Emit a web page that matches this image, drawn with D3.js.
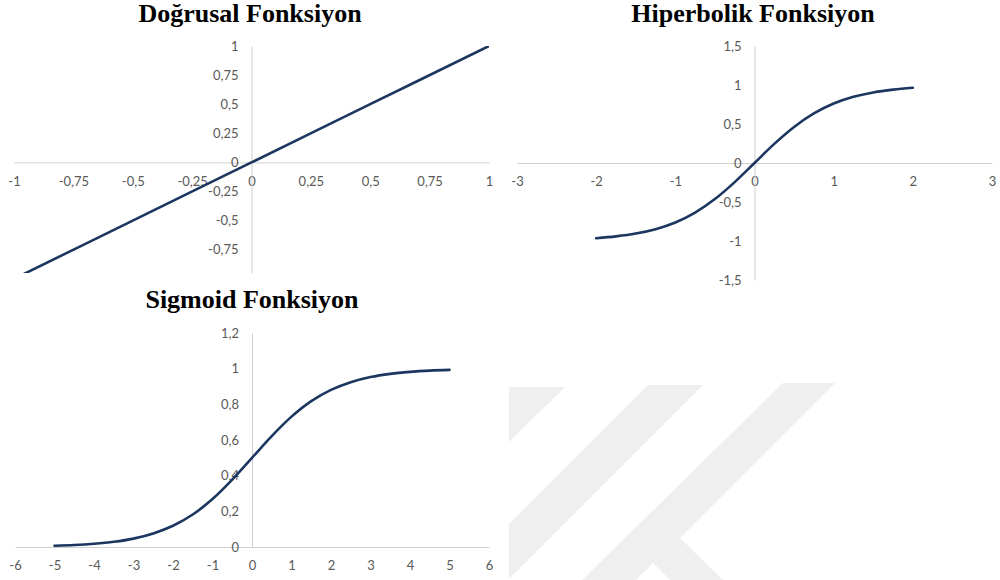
<!DOCTYPE html>
<html>
<head>
<meta charset="utf-8">
<script src="https://cdn.jsdelivr.net/npm/d3@7"></script>
<style>
  html, body { margin: 0; padding: 0; background: #ffffff; }
  svg { display: block; }
  .title { font-family: "Liberation Serif", "Times New Roman", serif; font-weight: bold; font-size: 26px; fill: #000; }
  .tick text { font-family: Lato, "Liberation Sans", Arial, sans-serif; font-size: 13px; fill: #595959; }
</style>
</head>
<body>
<svg id="chart" width="1000" height="580"></svg>
<script>
// ---- Data ----
// Doğrusal (linear) function
const linearX = [-1, -0.5, 0, 0.5, 1];
const linearY = [-1, -0.5, 0, 0.5, 1];
const linearXTicks = [-1, -0.75, -0.5, -0.25, 0, 0.25, 0.5, 0.75, 1];
const linearYTicks = [-0.75, -0.5, -0.25, 0, 0.25, 0.5, 0.75, 1];

// Hiperbolik (tanh) function
const tanhX = [-2, -1.75, -1.5, -1.25, -1, -0.75, -0.5, -0.25, 0, 0.25, 0.5, 0.75, 1, 1.25, 1.5, 1.75, 2];
const tanhY = [-0.964, -0.941, -0.905, -0.848, -0.762, -0.635, -0.462, -0.245, 0, 0.245, 0.462, 0.635, 0.762, 0.848, 0.905, 0.941, 0.964];
const tanhXTicks = [-3, -2, -1, 0, 1, 2, 3];
const tanhYTicks = [-1.5, -1, -0.5, 0, 0.5, 1, 1.5];

// Sigmoid function
const sigX = [-5, -4.5, -4, -3.5, -3, -2.5, -2, -1.5, -1, -0.5, 0, 0.5, 1, 1.5, 2, 2.5, 3, 3.5, 4, 4.5, 5];
const sigY = [0.007, 0.011, 0.018, 0.029, 0.047, 0.076, 0.119, 0.182, 0.269, 0.378, 0.5, 0.622, 0.731, 0.818, 0.881, 0.924, 0.953, 0.971, 0.982, 0.989, 0.993];
const sigXTicks = [-6, -5, -4, -3, -2, -1, 0, 1, 2, 3, 4, 5, 6];
const sigYTicks = [0, 0.2, 0.4, 0.6, 0.8, 1, 1.2];

const titles = ["Doğrusal Fonksiyon", "Hiperbolik Fonksiyon", "Sigmoid Fonksiyon"];

// ---- Setup ----
const svg = d3.select("#chart");
const trLocale = d3.formatLocale({ decimal: ",", thousands: ".", grouping: [3], currency: ["", " ₺"], minus: "-" });
const fmt = trLocale.format(".2~f");

const LINE_COLOR = "#1b365f";
const AXIS_COLOR = "#d0d0d0";

// Decorative background emblem (light grey diagonal bands)
const deco = svg.append("g").attr("fill", "#efefef");
deco.append("path").attr("d", "M509,387 L565,387 L509,442 Z");
deco.append("path").attr("d", "M648,385 L703,385 L509,579 L509,524 Z");
deco.append("path").attr("d", "M783,383 L835,383 L680,538 L723,580 L670,580 L653,563 L636,580 L582,580 Z");

const panels = [
  { title: titles[0], titleX: 250, titleY: 22,
    xs: linearX, ys: linearY, xDom: [-1, 1], xRange: [14, 489], yDom: [-0.95, 1], yRange: [273, 46],
    xTicks: linearXTicks, yTicks: linearYTicks, id: "c0" },
  { title: titles[1], titleX: 753, titleY: 22,
    xs: tanhX, ys: tanhY, xDom: [-3, 3], xRange: [517, 992], yDom: [-1.5, 1.5], yRange: [280, 46],
    xTicks: tanhXTicks, yTicks: tanhYTicks, id: "c1" },
  { title: titles[2], titleX: 252, titleY: 308,
    xs: sigX, ys: sigY, xDom: [-6, 6], xRange: [15, 489], yDom: [0, 1.2], yRange: [547, 333],
    xTicks: sigXTicks, yTicks: sigYTicks, id: "c2" }
];

panels.forEach(p => {
  const x = d3.scaleLinear().domain(p.xDom).range(p.xRange);
  const y = d3.scaleLinear().domain(p.yDom).range(p.yRange);
  const g = svg.append("g");

  g.append("text").attr("class", "title")
    .attr("x", p.titleX).attr("y", p.titleY)
    .attr("text-anchor", "middle").text(p.title);

  // Horizontal axis through y = 0
  const xAxis = d3.axisBottom(x).tickValues(p.xTicks).tickSize(0).tickPadding(14).tickFormat(fmt);
  const gx = g.append("g").attr("transform", `translate(0,${y(0)})`).call(xAxis);
  gx.select(".domain").attr("stroke", AXIS_COLOR).attr("stroke-width", 1);

  // Vertical axis through x = 0
  const yAxis = d3.axisLeft(y).tickValues(p.yTicks).tickSize(0).tickPadding(13).tickFormat(fmt);
  const gy = g.append("g").attr("transform", `translate(${x(0)},0)`).call(yAxis);
  gy.select(".domain").attr("stroke", AXIS_COLOR).attr("stroke-width", 1);

  // Clip region for the curve
  svg.append("clipPath").attr("id", p.id)
    .append("rect")
    .attr("x", p.xRange[0]).attr("y", p.yRange[1])
    .attr("width", p.xRange[1] - p.xRange[0])
    .attr("height", p.yRange[0] - p.yRange[1]);

  const pts = p.xs.map((v, i) => [v, p.ys[i]]);
  const line = d3.line().x(d => x(d[0])).y(d => y(d[1])).curve(d3.curveCatmullRom.alpha(0.5));
  g.append("path").datum(pts)
    .attr("clip-path", `url(#${p.id})`)
    .attr("d", line)
    .attr("fill", "none")
    .attr("stroke", LINE_COLOR)
    .attr("stroke-width", 2.6)
    .attr("stroke-linecap", "round");
});
</script>
</body>
</html>
